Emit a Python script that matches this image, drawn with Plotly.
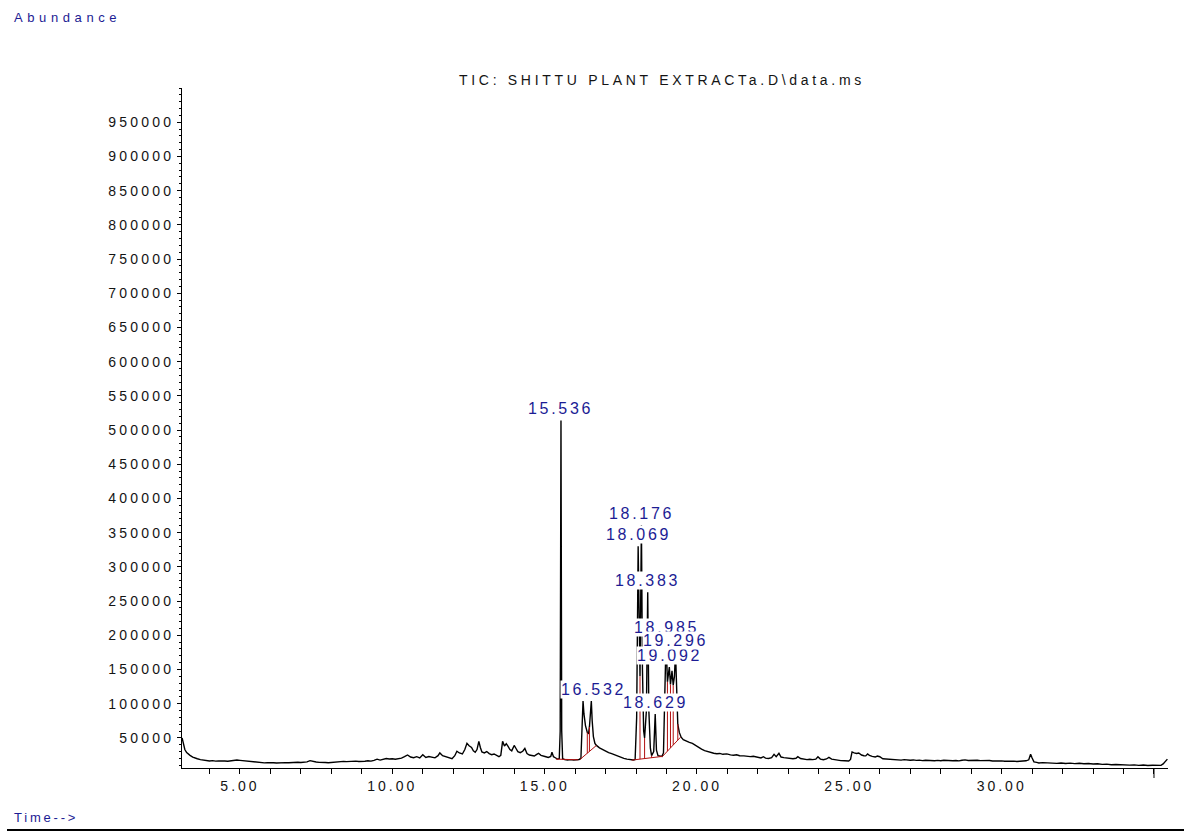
import plotly.graph_objects as go

# ---------------- data ----------------
time_min = [
    3.10, 3.14, 3.19, 3.25, 3.30, 3.36, 3.45, 3.52, 3.60, 3.70, 3.80, 3.90, 4.00, 4.10, 4.20, 4.30,
    4.40, 4.50, 4.60, 4.70, 4.80, 4.90, 5.00, 5.10, 5.20, 5.30, 5.40, 5.50, 5.60, 5.70, 5.80, 5.90,
    6.00, 6.10, 6.20, 6.30, 6.40, 6.50, 6.60, 6.70, 6.80, 6.90, 7.00, 7.10, 7.20, 7.30, 7.40, 7.50,
    7.60, 7.70, 7.80, 7.90, 8.00, 8.10, 8.20, 8.30, 8.40, 8.50, 8.60, 8.70, 8.80, 8.90, 9.00, 9.10,
    9.20, 9.30, 9.40, 9.50, 9.60, 9.70, 9.80, 9.90, 10.00, 10.10, 10.20, 10.30, 10.40, 10.50, 10.60,
    10.70, 10.80, 10.90, 11.00, 11.10, 11.20, 11.30, 11.40, 11.50, 11.56, 11.65, 11.75, 11.85, 11.96,
    12.05, 12.12, 12.20, 12.30, 12.38, 12.45, 12.52, 12.60, 12.66, 12.72, 12.78, 12.84, 12.89, 12.94,
    13.02, 13.10, 13.18, 13.26, 13.34, 13.42, 13.50, 13.56, 13.62, 13.68, 13.74, 13.80, 13.86, 13.92,
    14.00, 14.06, 14.12, 14.20, 14.28, 14.35, 14.42, 14.50, 14.58, 14.66, 14.74, 14.80, 14.88, 14.96,
    15.04, 15.12, 15.20, 15.24, 15.29, 15.35, 15.42, 15.48, 15.51, 15.536, 15.56, 15.59, 15.66, 15.75,
    15.85, 15.95, 16.05, 16.13, 16.19, 16.23, 16.26, 16.29, 16.34, 16.40, 16.44, 16.47, 16.50, 16.532,
    16.56, 16.60, 16.65, 16.70, 16.80, 16.90, 17.00, 17.10, 17.20, 17.30, 17.40, 17.50, 17.60, 17.70,
    17.80, 17.86, 17.92, 17.97, 18.02, 18.069, 18.10, 18.13, 18.176, 18.21, 18.25, 18.28, 18.34, 18.383,
    18.42, 18.47, 18.51, 18.58, 18.629, 18.67, 18.72, 18.78, 18.85, 18.90, 18.94, 18.985, 19.03, 19.06,
    19.092, 19.13, 19.18, 19.22, 19.26, 19.296, 19.33, 19.37, 19.42, 19.48, 19.55, 19.65, 19.75, 19.85,
    19.95, 20.05, 20.15, 20.25, 20.35, 20.45, 20.55, 20.65, 20.75, 20.85, 20.98, 21.10, 21.20, 21.30,
    21.40, 21.54, 21.65, 21.75, 21.85, 21.95, 22.05, 22.10, 22.18, 22.25, 22.35, 22.45, 22.53, 22.60,
    22.69, 22.76, 22.85, 22.95, 23.05, 23.15, 23.25, 23.31, 23.40, 23.50, 23.61, 23.70, 23.80, 23.90,
    23.97, 24.05, 24.15, 24.25, 24.33, 24.42, 24.52, 24.62, 24.72, 24.85, 24.98, 25.04, 25.09, 25.16,
    25.24, 25.31, 25.40, 25.48, 25.54, 25.60, 25.66, 25.75, 25.85, 25.92, 26.00, 26.10, 26.20, 26.30,
    26.40, 26.56, 26.70, 26.80, 26.90, 27.00, 27.10, 27.20, 27.30, 27.40, 27.50, 27.60, 27.70, 27.80,
    27.90, 28.00, 28.10, 28.20, 28.30, 28.40, 28.50, 28.60, 28.70, 28.80, 28.90, 29.00, 29.10, 29.20,
    29.30, 29.40, 29.50, 29.60, 29.70, 29.80, 29.90, 30.00, 30.10, 30.20, 30.30, 30.40, 30.50, 30.60,
    30.70, 30.80, 30.89, 30.95, 31.00, 31.06, 31.15, 31.22, 31.35, 31.50, 31.65, 31.81, 31.95, 32.10,
    32.25, 32.40, 32.55, 32.70, 32.85, 33.00, 33.15, 33.30, 33.45, 33.60, 33.75, 33.90, 34.05, 34.20,
    34.35, 34.50, 34.65, 34.80, 34.95, 35.10, 35.23, 35.30, 35.38, 35.44,
]
abundance = [
    50000, 42000, 33000, 28500, 26000, 24500, 22000, 20500, 19500, 18200, 17500, 16800, 16300, 16800, 16000, 16400,
    15800, 16200, 15900, 16600, 16900, 17600, 17200, 16700, 16000, 15200, 14800, 14300, 14600, 13900, 13500, 13800,
    13200, 13600, 13300, 13800, 13400, 13900, 13600, 14200, 13800, 14300, 14100, 14600, 15000, 16800, 15400, 14700,
    14200, 14500, 14100, 13700, 14300, 14900, 15600, 15100, 15700, 15300, 15900, 15400, 16000, 15600, 16300, 15900,
    16500, 16100, 17200, 18900, 17600, 18300, 19900, 19200, 19600, 18800, 19500, 20500, 22500, 25000, 22000,
    21000, 22500, 20800, 25500, 21500, 22800, 21300, 20900, 24000, 28000, 24000, 22500, 21000, 19500,
    24000, 30500, 28000, 26500, 33000, 42000, 38500, 36000, 31000, 29000, 33000, 45000, 36000, 29500,
    28000, 30000, 27000, 25500, 26500, 24000, 22500, 24500, 45000, 38000, 41500, 37500, 33000, 31000,
    39000, 34500, 30000, 28500, 30500, 34500, 27000, 25000, 24500, 23500, 26000, 27500, 24500, 23000,
    22500, 21500, 23000, 29000, 22500, 21000, 19000, 19800, 60000, 514000, 60000, 19500, 18200, 17800,
    18300, 17500, 18000, 18500, 20000, 60000, 104000, 85000, 68000, 58000, 56000, 66000, 85000, 104000,
    75000, 52000, 42000, 39000, 35500, 33000, 30500, 28500, 27000, 25000, 23500, 22000, 20000, 19000,
    18200, 17500, 17800, 18500, 80000, 330000, 170000, 140000, 361000, 150000, 60000, 50000, 90000, 263000,
    90000, 35000, 24000, 30000, 85000, 32000, 24000, 24000, 23000, 28000, 110000, 194500, 132000, 140000,
    153500, 128000, 148000, 127000, 140000, 175500, 110000, 70000, 58000, 51000, 47500, 45000, 43500, 42000,
    39000, 36000, 33500, 31500, 29800, 28500, 27500, 26800, 27300, 26000, 26600, 25200, 24600, 25300,
    24000, 23700, 23000, 22600, 23200, 21800, 21000, 20700, 22500, 20500, 20000, 21000, 26000, 22500,
    27500, 22000, 21200, 20500, 20000, 19600, 20200, 22500, 19800, 19000, 18200, 18700, 18300, 19000,
    22500, 19000, 18000, 19200, 21500, 19000, 18000, 17500, 16800, 16500, 16200, 18500, 29500, 28000,
    27200, 28000, 25000, 24000, 23700, 26500, 24500, 23000, 22000, 23500, 22500, 19500, 19000, 18500,
    18800, 17800, 17500, 18200, 17600, 17300, 17800, 17100, 17500, 16800, 17300, 16900, 17400, 16700,
    17200, 16600, 17300, 16800, 17100, 16500, 17000, 16400, 17300, 17900, 17000, 17500, 16900, 17400,
    16800, 17200, 16500, 16900, 16300, 16700, 16000, 16400, 15800, 16200, 15700, 16000, 15500, 15900,
    15600, 16500, 18000, 26000, 20500, 15000, 14200, 13400, 13900, 13200, 13600, 12800, 13300, 12600,
    13100, 12400, 12900, 12200, 12600, 11800, 12200, 11300, 11700, 10800, 11200, 10500, 10900, 10200,
    10600, 9800, 10300, 9600, 10000, 9400, 9800, 12000, 16000, 19000,
]

# labelled peaks (retention time, apex abundance)
peak_times = [15.536, 16.532, 18.069, 18.176, 18.383, 18.629, 18.985, 19.092, 19.296]
peak_heights = [514000, 104000, 330000, 361000, 263000, 85000, 194500, 153500, 175500]

# integration baselines (red), segments separated by None
baseline_t = [15.37, 16.10, None, 16.16, 16.70, None, 17.86, 18.87, 19.46]
baseline_v = [19000, 18000, None, 18500, 39000, None, 17500, 23000, 51000]

# integration drop lines (red): time, baseline level, signal level
drop_t = [16.40, 16.47, 18.13, 18.28, 18.51, 18.78, 19.03, 19.13, 19.22, 19.37]
drop_base = [27600, 30300, 19000, 19800, 21000, 22500, 30600, 35300, 39600, 46700]
drop_top = [58000, 66000, 140000, 50000, 24000, 24000, 132000, 128000, 127000, 70000]

x_tick_vals = [5, 10, 15, 20, 25, 30, 35]
x_tick_text = ["5.00", "10.00", "15.00", "20.00", "25.00", "30.00", ""]
y_tick_vals = [50000, 100000, 150000, 200000, 250000, 300000, 350000, 400000, 450000, 500000,
               550000, 600000, 650000, 700000, 750000, 800000, 850000, 900000, 950000]
y_tick_text = ["50000", "100000", "150000", "200000", "250000", "300000", "350000", "400000",
               "450000", "500000", "550000", "600000", "650000", "700000", "750000", "800000",
               "850000", "900000", "950000"]

title_text = "TIC: SHITTU PLANT EXTRACTa.D\\data.ms"

# ---------------- styling ----------------
FONT = "Liberation Sans, Arial, sans-serif"
BLUE = "#1c1c94"
INK = "#141414"
W, H = 1184, 831
L, R, T, B = 182, 1168, 88, 768   # plot area in pixels
LABEL_XSHIFT = {16.532: 2}        # small nudge so the 15.536 spike stays visible


def spaced(s, ls):
    return f'<span style="letter-spacing:{ls}px">{s}</span>'


def px_x(p):
    return (p - L) / (R - L)


def px_y(p):
    return (B - p) / (B - T)


fig = go.Figure()

fig.add_trace(go.Scatter(
    x=time_min, y=abundance, mode="lines",
    line=dict(color="black", width=1.4), hoverinfo="skip",
))

# red integration baselines
fig.add_trace(go.Scatter(
    x=baseline_t, y=baseline_v, mode="lines",
    line=dict(color="#b01010", width=1), hoverinfo="skip", connectgaps=False,
))

# red drop lines
dx, dy = [], []
for t, b, top in zip(drop_t, drop_base, drop_top):
    dx += [t, t, None]
    dy += [b, top, None]
fig.add_trace(go.Scatter(
    x=dx, y=dy, mode="lines",
    line=dict(color="#b01010", width=1), hoverinfo="skip", connectgaps=False,
))

# peak labels
for t, h in zip(peak_times, peak_heights):
    fig.add_annotation(
        x=t, y=h, text=spaced(f"{t:.3f}", 2.7), showarrow=False,
        xanchor="center", yanchor="bottom", yshift=2, xshift=LABEL_XSHIFT.get(t, 0),
        bgcolor="white", borderpad=0,
        font=dict(family=FONT, size=16, color=BLUE),
    )

# title
fig.add_annotation(
    x=px_x(662), y=px_y(80), xref="paper", yref="paper",
    text=spaced(title_text, 3.7), showarrow=False,
    xanchor="center", yanchor="middle",
    font=dict(family=FONT, size=14, color=INK),
)
# axis captions
fig.add_annotation(
    x=px_x(12), y=px_y(18), xref="paper", yref="paper",
    text=spaced("Abundance", 4.6), showarrow=False,
    xanchor="left", yanchor="middle",
    font=dict(family=FONT, size=13, color=BLUE),
)
fig.add_annotation(
    x=px_x(12), y=px_y(817), xref="paper", yref="paper",
    text=spaced("Time-->", 2.8), showarrow=False,
    xanchor="left", yanchor="middle",
    font=dict(family=FONT, size=13, color=BLUE),
)

# bottom rule and long tick at 35 min
fig.add_shape(type="line", xref="paper", yref="paper",
              x0=px_x(7), x1=px_x(1184), y0=px_y(830), y1=px_y(830),
              line=dict(color="black", width=2))
fig.add_shape(type="line", xref="x", yref="paper",
              x0=35, x1=35, y0=0, y1=px_y(778),
              line=dict(color="black", width=1))

fig.update_layout(
    width=W, height=H,
    margin=dict(l=L, r=W - R, t=T, b=H - B, autoexpand=False),
    paper_bgcolor="white", plot_bgcolor="white",
    showlegend=False,
    font=dict(family=FONT, color=INK),
)

fig.update_xaxes(
    range=[3.097, 35.46], showgrid=False, zeroline=False,
    showline=True, linecolor="black", linewidth=1,
    ticks="outside", ticklen=5, tickcolor="black", tickwidth=1,
    tickmode="array", tickvals=x_tick_vals,
    ticktext=[spaced(s, 3.0) for s in x_tick_text],
    tickfont=dict(family=FONT, size=14, color=INK),
    minor=dict(tickmode="linear", tick0=0, dtick=1, ticks="outside", ticklen=5,
               tickcolor="black", tickwidth=1, showgrid=False),
    automargin=False, fixedrange=True,
)
fig.update_yaxes(
    range=[6000, 1000000], showgrid=False, zeroline=False,
    showline=True, linecolor="black", linewidth=1,
    ticks="outside", ticklen=4, tickcolor="black", tickwidth=1,
    tickmode="array", tickvals=y_tick_vals,
    ticktext=[spaced(s, 3.2) for s in y_tick_text],
    tickfont=dict(family=FONT, size=14, color=INK),
    minor=dict(tickmode="linear", tick0=0, dtick=10000, ticks="outside", ticklen=2,
               tickcolor="black", tickwidth=1, showgrid=False),
    automargin=False, fixedrange=True,
)

fig.write_html("out.html", config={"displayModeBar": False},
               post_script="document.body.style.margin='0';")
